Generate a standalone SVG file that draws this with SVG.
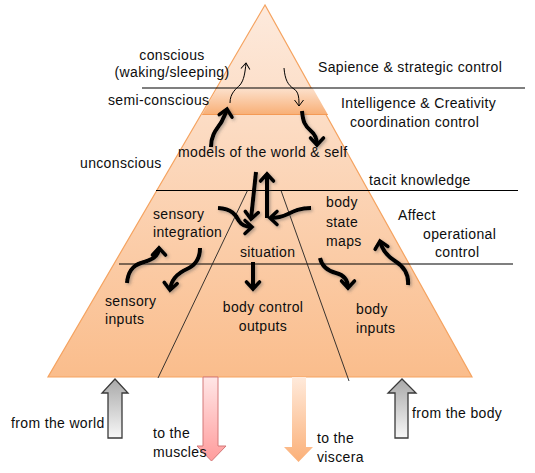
<svg xmlns="http://www.w3.org/2000/svg" width="535" height="473" viewBox="0 0 535 473">
<defs>
  <linearGradient id="gTri" x1="0" y1="0" x2="0" y2="1">
    <stop offset="0" stop-color="#FDEADD"/>
    <stop offset="1" stop-color="#FABD8C"/>
  </linearGradient>
  <linearGradient id="gBand" gradientUnits="userSpaceOnUse" x1="0" y1="88" x2="0" y2="115">
    <stop offset="0" stop-color="#FCE1CD"/>
    <stop offset="1" stop-color="#F8AE74"/>
  </linearGradient>
  <linearGradient id="gGray" x1="0" y1="0" x2="0" y2="1">
    <stop offset="0" stop-color="#A9A9A9"/>
    <stop offset="1" stop-color="#F7F7F7"/>
  </linearGradient>
  <linearGradient id="gRed" x1="0" y1="0" x2="0" y2="1">
    <stop offset="0" stop-color="#FFE6E6"/>
    <stop offset="1" stop-color="#FF9C9C"/>
  </linearGradient>
  <linearGradient id="gOrange" x1="0" y1="0" x2="0" y2="1">
    <stop offset="0" stop-color="#FFEADB"/>
    <stop offset="1" stop-color="#FBB078"/>
  </linearGradient>
  <filter id="shadow" filterUnits="userSpaceOnUse" x="0" y="0" width="535" height="473">
    <feDropShadow dx="1.5" dy="1.5" stdDeviation="1.5" flood-color="#555" flood-opacity="0.45"/>
  </filter>
  <marker id="headThick" markerUnits="userSpaceOnUse" markerWidth="20" markerHeight="20" refX="0" refY="0" viewBox="-10 -10 20 20" orient="auto" overflow="visible">
    <path d="M-7,-6.5 L0,0 L-7,6.5" fill="none" stroke="#000" stroke-width="3.6" stroke-linecap="round" stroke-linejoin="miter"/>
  </marker>
  <marker id="headThin" markerUnits="userSpaceOnUse" markerWidth="14" markerHeight="14" refX="0" refY="0" viewBox="-7 -7 14 14" orient="auto" overflow="visible">
    <path d="M-6,-4.5 L0,0 L-6,4.5" fill="none" stroke="#000" stroke-width="1"/>
  </marker>
  <style>
    text { font-family: "Liberation Sans", Arial, sans-serif; font-size: 14px; letter-spacing: 0.35px; fill: #0d0d0d; }
    .rule { stroke: #000; stroke-width: 1.2; fill: none; }
    .div { stroke: #222; stroke-width: 0.9; fill: none; }
    .thick { stroke: #000; stroke-width: 4; fill: none; stroke-linecap: butt; marker-end: url(#headThick); }
    .thin { stroke: #000; stroke-width: 1; fill: none; marker-end: url(#headThin); }
    .c { text-anchor: middle; }
  </style>
</defs>

<g id="pyramid">
  <polygon points="265,5 48,377 472,377" fill="url(#gTri)" stroke="#F5A360" stroke-width="1.2"/>
  <polygon id="semi-band" points="217.3,88 312.7,88 327.8,114.5 202.2,114.5" fill="url(#gBand)"/>
  <line x1="202.2" y1="114.5" x2="327.8" y2="114.5" stroke="#F49A55" stroke-width="1.2"/>
</g>

<g id="rules">
  <line class="rule" x1="142" y1="88" x2="525" y2="88"/>
  <line class="rule" x1="156" y1="190.5" x2="518" y2="190.5"/>
  <line class="rule" x1="119" y1="264" x2="513" y2="264"/>
  <line class="div" x1="247.5" y1="190.5" x2="158" y2="378"/>
  <line class="div" x1="281" y1="190.5" x2="349" y2="381"/>
</g>

<g id="connectors">
  <path class="thin" d="M230,103 C230,93 236,89 240,85 C244,80 245,73 246,63"/>
  <path class="thin" d="M284,68 C285,80 288,85 294,89 C299,92 299,99 299,106"/>
  <g filter="url(#shadow)">
    <path class="thick" d="M211,147 C211,133 219,127 222,121 C224,116 226,114 227,109"/>
    <path class="thick" d="M302,111 C303,122 305,126 311,131 C316,135 317,139 317,145"/>
    <path class="thick" d="M256,172 L251,219"/>
    <path class="thick" d="M267,218 L267,174"/>
    <path class="thick" d="M218,208 C232,209 236,215 239,221 C242,226 247,227 252,227"/>
    <path class="thick" d="M311,208 C300,208 294,211 288,214 C282,217 276,218 270,218"/>
    <path class="thick" d="M253,262 L253,289"/>
    <path class="thick" d="M127,283 C128,272 132,266 141,263 C151,260 159,257 159,248"/>
    <path class="thick" d="M200,248 C200,258 196,265 187,269 C178,273 171,280 170,290"/>
    <path class="thick" d="M320,258 C322,267 328,271 336,273 C344,275 348,280 348,288"/>
    <path class="thick" d="M408,285 C409,274 403,266 395,261 C387,256 382,250 380,241"/>
  </g>
</g>

<g id="io-arrows">
  <polygon id="from-world-arrow" points="108,438 108,393 102,393 115,379 128,393 122,393 122,438" fill="url(#gGray)" stroke="#3A3A3A" stroke-width="1.3"/>
  <polygon id="from-body-arrow" points="395,438 395,393 388,393 402,379 416,393 408,393 408,438" fill="url(#gGray)" stroke="#3A3A3A" stroke-width="1.3"/>
  <polygon id="to-muscles-arrow" points="203,377 218,377 218,446 226,446 211.5,461 197,446 203,446" fill="url(#gRed)" stroke="#D37878" stroke-width="1"/>
  <polygon id="to-viscera-arrow" points="292,377 306,377 306,447 313,447 298.5,462 284,447 292,447" fill="url(#gOrange)"/>
</g>

<g id="labels">
  <g id="conscious"><text class="c" x="172" y="60">conscious</text><text class="c" x="172" y="77">(waking/sleeping)</text></g>
  <g id="sapience"><text x="318" y="72">Sapience &amp; strategic control</text></g>
  <g id="semi-conscious"><text x="108" y="105">semi-conscious</text></g>
  <g id="intelligence"><text x="341" y="108">Intelligence &amp; Creativity</text><text x="350" y="127">coordination control</text></g>
  <g id="unconscious"><text x="80" y="168">unconscious</text></g>
  <g id="models"><text x="178" y="157">models of the world &amp; self</text></g>
  <g id="tacit"><text x="369" y="185">tacit knowledge</text></g>
  <g id="affect"><text x="398" y="220">Affect</text><text x="423" y="239">operational</text><text x="435" y="257">control</text></g>
  <g id="sensory-integration"><text x="153" y="219">sensory</text><text x="153" y="237">integration</text></g>
  <g id="body-state-maps"><text x="326" y="207">body</text><text x="326" y="227">state</text><text x="326" y="246">maps</text></g>
  <g id="situation"><text x="240" y="257">situation</text></g>
  <g id="sensory-inputs"><text x="105" y="306">sensory</text><text x="105" y="324">inputs</text></g>
  <g id="body-control-outputs"><text class="c" x="263" y="312">body control</text><text class="c" x="263" y="331">outputs</text></g>
  <g id="body-inputs"><text x="356" y="314">body</text><text x="356" y="333">inputs</text></g>
  <g id="from-world"><text x="11" y="428">from the world</text></g>
  <g id="from-body"><text x="412" y="418">from the body</text></g>
  <g id="to-muscles"><text x="153" y="438">to the</text><text x="153" y="457">muscles</text></g>
  <g id="to-viscera"><text x="317" y="443">to the</text><text x="317" y="462">viscera</text></g>
</g>
</svg>
